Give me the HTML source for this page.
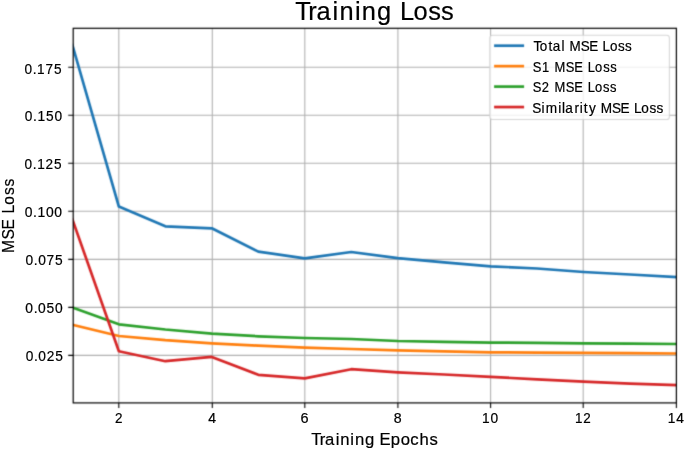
<!DOCTYPE html>
<html><head><meta charset="utf-8"><title>Training Loss</title><style>
html,body{margin:0;padding:0;background:#fff;}
body{width:685px;height:451px;overflow:hidden;font-family:"Liberation Sans",sans-serif;}
svg{display:block;will-change:transform;}
</style></head><body>
<svg width="685" height="451" viewBox="0 0 685 451">
<defs>
<filter id="bl" x="0" y="0" width="685" height="451" filterUnits="userSpaceOnUse" color-interpolation-filters="sRGB"><feConvolveMatrix order="3" kernelMatrix="0.0256 0.1088 0.0256 0.1088 0.4624 0.1088 0.0256 0.1088 0.0256" divisor="1" edgeMode="none"/></filter>
<clipPath id="ax"><rect x="72.90" y="27.90" width="603.90" height="375.40"/></clipPath>
</defs>
<g filter="url(#bl)">
<rect width="685" height="451" fill="#fff"/>
<path d="M118.8,28.3V402.9M212.3,28.3V402.9M304.8,28.3V402.9M397.9,28.3V402.9M490.6,28.3V402.9M583.2,28.3V402.9M73.2,67.3H676.4M73.2,115.3H676.4M73.2,163.3H676.4M73.2,211.3H676.4M73.2,259.4H676.4M73.2,307.4H676.4M73.2,355.4H676.4" stroke="#b0b0b0" stroke-width="1.08" fill="none"/>
<g clip-path="url(#ax)" fill="none" stroke-width="2.7" stroke-linejoin="round" stroke-linecap="square">
<polyline points="72.40,45.00 118.87,206.60 165.34,226.30 211.81,228.30 258.28,251.60 304.75,258.30 351.22,252.00 397.69,258.10 444.16,262.30 490.63,266.30 537.10,268.50 583.57,272.00 630.04,274.50 676.51,277.00" stroke="#1f77b4"/>
<polyline points="72.40,324.80 118.87,336.00 165.34,340.20 211.81,343.30 258.28,345.60 304.75,347.60 351.22,349.00 397.69,350.30 444.16,351.40 490.63,352.30 537.10,352.60 583.57,352.90 630.04,353.10 676.51,353.50" stroke="#ff7f0e"/>
<polyline points="72.40,307.40 118.87,324.30 165.34,329.50 211.81,333.60 258.28,336.30 304.75,338.00 351.22,339.00 397.69,341.00 444.16,341.90 490.63,342.60 537.10,342.80 583.57,343.30 630.04,343.70 676.51,344.00" stroke="#2ca02c"/>
<polyline points="72.40,219.40 118.87,351.20 165.34,361.20 211.81,356.90 258.28,374.80 304.75,378.40 351.22,369.20 397.69,372.30 444.16,374.50 490.63,376.90 537.10,379.30 583.57,381.60 630.04,383.60 676.51,385.10" stroke="#d62728"/>
</g>
<rect x="73.2" y="28.3" width="603.20" height="374.60" fill="none" stroke="#000" stroke-width="1.2"/>
<path d="M68.20,67.3H73.2M68.20,115.3H73.2M68.20,163.3H73.2M68.20,211.3H73.2M68.20,259.4H73.2M68.20,307.4H73.2M68.20,355.4H73.2M118.8,402.9V407.90M212.3,402.9V407.90M304.8,402.9V407.90M397.9,402.9V407.90M490.6,402.9V407.90M583.2,402.9V407.90M676.4,402.9V407.90" stroke="#000" stroke-width="1.08" fill="none"/>
<rect x="489.8" y="35.3" width="179.6" height="84.2" rx="2.8" fill="#fff" fill-opacity="0.8" stroke="#ccc" stroke-opacity="0.8" stroke-width="1.08"/>
<path d="M494.1,45.70H524.1" stroke="#1f77b4" stroke-width="2.7" stroke-linecap="butt"/>
<path d="M494.1,66.15H524.1" stroke="#ff7f0e" stroke-width="2.7" stroke-linecap="butt"/>
<path d="M494.1,86.60H524.1" stroke="#2ca02c" stroke-width="2.7" stroke-linecap="butt"/>
<path d="M494.1,107.05H524.1" stroke="#d62728" stroke-width="2.7" stroke-linecap="butt"/>
</g>
<g font-family="Liberation Sans, sans-serif" fill="#000" stroke="#000" stroke-width="0.2"><text x="24.72 33.06 37.50 46.11 54.65" y="74.00" font-size="13.8" transform="scale(0.9879,1)">0.175</text>
<text x="24.99 33.29 37.70 46.23 54.80" y="121.00" font-size="13.8" transform="scale(0.9934,1)">0.150</text>
<text x="24.92 33.29 37.75 46.23 54.95" y="169.00" font-size="13.8" transform="scale(0.9844,1)">0.125</text>
<text x="24.59 32.81 37.12 45.59 53.99" y="217.00" font-size="13.8" transform="scale(1.0072,1)">0.100</text>
<text x="25.52 33.79 38.23 46.68 55.13" y="265.00" font-size="13.8" transform="scale(0.9985,1)">0.075</text>
<text x="25.29 33.53 37.93 46.31 54.79" y="313.00" font-size="13.8" transform="scale(1.0037,1)">0.050</text>
<text x="25.82 34.12 38.57 46.90 55.53" y="361.00" font-size="13.8" transform="scale(0.9951,1)">0.025</text>
<text x="117.38" y="423.00" font-size="13.8" transform="scale(0.9793,1)">2</text>
<text x="205.05" y="423.00" font-size="13.8" transform="scale(1.0161,1)">4</text>
<text x="285.90" y="423.00" font-size="13.8" transform="scale(1.0515,1)">6</text>
<text x="383.52" y="423.00" font-size="13.8" transform="scale(1.0269,1)">8</text>
<text x="484.85 493.43" y="423.00" font-size="13.8" transform="scale(0.9943,1)">10</text>
<text x="589.79 598.36" y="423.00" font-size="13.8" transform="scale(0.9749,1)">12</text>
<text x="671.20 679.77" y="423.00" font-size="13.8" transform="scale(0.9950,1)">14</text>
<text x="317.39 326.05 331.62 342.40 347.07 357.37 362.04 372.32 382.61 387.05 398.54 408.68 418.50 427.94 438.00" y="445.00" font-size="17.0" transform="scale(0.9804,1)">Training Epochs</text>
<g transform="translate(14,0) rotate(-90)"><text x="-274.89 -260.28 -249.33 -237.67 -231.99 -222.46 -211.96 -202.84" y="0.00" font-size="17.0" transform="scale(0.9200,1)">MSE Loss</text></g>
<text x="290.40 303.09 311.23 327.02 333.83 348.92 355.74 370.78 385.85 393.39 406.51 420.99 433.51" y="20.00" font-size="25.0" transform="scale(1.0171,1)">Training Loss</text>
<text x="546.63 553.11 561.94 566.49 575.46 579.20 583.54 595.11 603.77 613.05 617.49 625.03 633.35 640.55" y="51.00" font-size="13.8" transform="scale(0.9759,1)">Total MSE Loss</text>
<text x="568.16 577.94 586.79 591.46 603.46 612.47 622.02 626.73 634.56 643.20 650.70" y="72.00" font-size="13.8" transform="scale(0.9377,1)">S1 MSE Loss</text>
<text x="567.46 577.09 586.07 590.73 602.71 611.72 621.26 625.96 633.78 642.41 649.90" y="92.00" font-size="13.8" transform="scale(0.9388,1)">S2 MSE Loss</text>
<text x="539.84 549.09 553.47 566.23 570.03 573.31 582.65 587.85 592.02 597.25 605.01 609.27 620.73 629.29 638.52 642.88 650.35 658.58 665.71" y="113.00" font-size="13.8" transform="scale(0.9861,1)">Similarity MSE Loss</text></g>
</svg>
</body></html>
